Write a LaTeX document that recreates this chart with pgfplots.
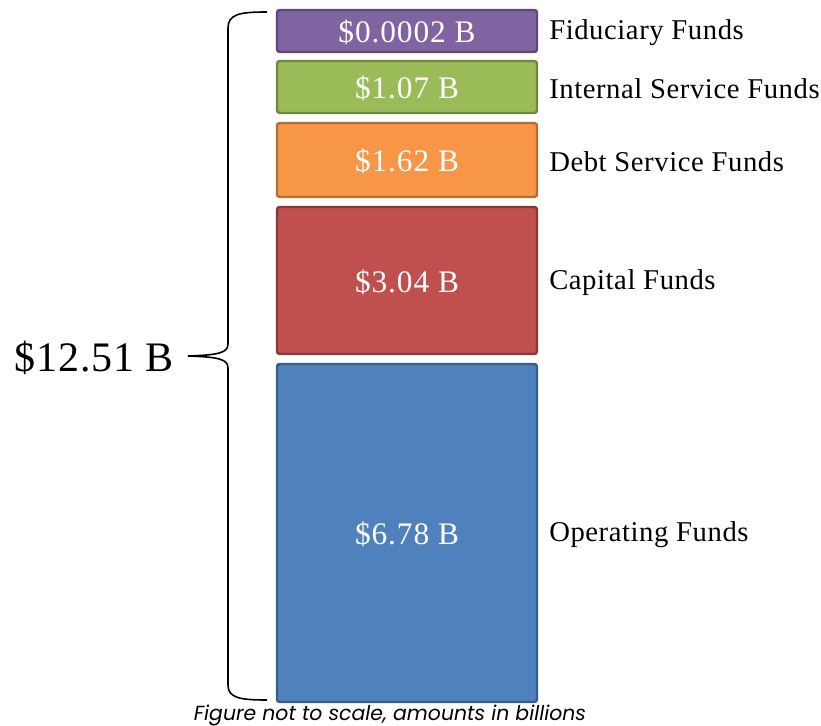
\documentclass[border=0pt]{standalone}
\usepackage{pgfplots}
\pgfplotsset{compat=1.18}
\usepackage{fontspec}
\setmainfont{Liberation Serif}
\newfontfamily\labfont{Liberation Serif}[LetterSpace=2]
\newfontfamily\valfont{Liberation Serif}[LetterSpace=3]
\newfontfamily\capfont{Poppins}

\definecolor{fidfill}{HTML}{8064A2}\definecolor{fiddraw}{HTML}{5C4776}
\definecolor{intfill}{HTML}{9BBB59}\definecolor{intdraw}{HTML}{71893F}
\definecolor{debfill}{HTML}{F79646}\definecolor{debdraw}{HTML}{B66D31}
\definecolor{capfill}{HTML}{C0504D}\definecolor{capdraw}{HTML}{8C3836}
\definecolor{opfill}{HTML}{4F81BD}\definecolor{opdraw}{HTML}{385D8A}

\tikzset{
    lab/.style={font=\labfont\fontsize{21.5}{24}\selectfont, anchor=west, inner sep=0pt},
    val/.style={font=\valfont\fontsize{23.5}{26}\selectfont, text=white},
}

\begin{document}
\begin{tikzpicture}
\begin{axis}[
    x=0.75pt, y=0.75pt,
    xmin=0, xmax=821, ymin=0, ymax=725,
    hide axis, clip=false,
    ybar stacked,
    bar width=260,
    every axis plot/.append style={line width=1.8pt, rounded corners=2pt},
]
% figure not to scale: heights below are drawn heights, amounts are in the labels
\addplot[draw=none, fill=none] coordinates {(407,23)};
\addplot[fill=opfill, draw=opdraw]   coordinates {(407,338)}; % 6.78
\addplot[draw=none, fill=none] coordinates {(407,10)};
\addplot[fill=capfill, draw=capdraw] coordinates {(407,147)}; % 3.04
\addplot[draw=none, fill=none] coordinates {(407,10)};
\addplot[fill=debfill, draw=debdraw] coordinates {(407,74)};  % 1.62
\addplot[draw=none, fill=none] coordinates {(407,10)};
\addplot[fill=intfill, draw=intdraw] coordinates {(407,52)};  % 1.07
\addplot[draw=none, fill=none] coordinates {(407,9)};
\addplot[fill=fidfill, draw=fiddraw] coordinates {(407,42)};  % 0.0002

\coordinate (v1) at (axis cs:407,693);
\coordinate (v2) at (axis cs:407,637);
\coordinate (v3) at (axis cs:407,564);
\coordinate (v4) at (axis cs:407,443);
\coordinate (v5) at (axis cs:407,191);

\node[lab] at (axis cs:549,692) {Fiduciary Funds};
\node[lab] at (axis cs:549,636) {Internal Service Funds};
\node[lab] at (axis cs:549,563) {Debt Service Funds};
\node[lab] at (axis cs:549,442) {Capital Funds};
\node[lab] at (axis cs:549,190) {Operating Funds};

\draw[line width=1.2pt]
  (axis cs:267,713) .. controls (axis cs:240,713) and (axis cs:228,711) .. (axis cs:228,697)
  -- (axis cs:228,381) .. controls (axis cs:228,372) and (axis cs:218,370) .. (axis cs:188,369)
  .. controls (axis cs:218,368) and (axis cs:228,366) .. (axis cs:228,357)
  -- (axis cs:228,40) .. controls (axis cs:228,27) and (axis cs:240,25) .. (axis cs:267,25);

\node[font=\labfont\fontsize{31.5}{34}\selectfont, anchor=east, inner sep=0pt] at (axis cs:174,367) {\$12.51 B};
\node[font=\capfont\itshape\fontsize{15.3}{17}\selectfont, anchor=base, inner sep=0pt] at (axis cs:390,5) {Figure not to scale, amounts in billions};

\path (axis cs:0,0) rectangle (axis cs:821,725);
\end{axis}
\node[val] at (v1) {\$0.0002 B};
\node[val] at (v2) {\$1.07 B};
\node[val] at (v3) {\$1.62 B};
\node[val] at (v4) {\$3.04 B};
\node[val] at (v5) {\$6.78 B};
\end{tikzpicture}
\end{document}
